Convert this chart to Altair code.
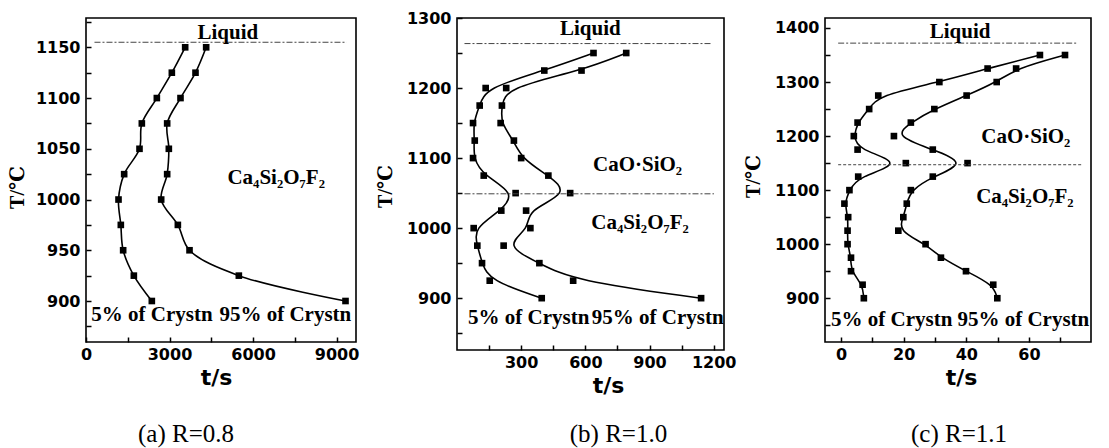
import altair as alt
import pandas as pd

# ---------------- data ----------------
T_a = [900, 925, 950, 975, 1000, 1025, 1050, 1075, 1100, 1125, 1150]
a_5 = [2365, 1719, 1335, 1251, 1168, 1371, 1922, 2006, 2545, 3084, 3563]
a_95 = [9323, 5491, 3719, 3300, 2701, 2916, 2976, 2916, 3395, 3934, 4317]

T_b = [900, 925, 950, 975, 1000, 1025, 1050, 1075, 1100, 1125, 1150, 1175, 1200, 1225, 1250]
b_5 = [396, 153, 117, 95, 78, 207, 274, 125, 75, 83, 75, 106, 134, 408, 638]
b_95 = [1141, 543, 385, 218, 343, 323, 529, 427, 300, 266, 204, 210, 230, 582, 791]

T_c = [900, 925, 950, 975, 1000, 1025, 1050, 1075, 1100, 1125, 1150, 1175, 1200,
       1225, 1250, 1275, 1300, 1325, 1350]
c_5 = [7.3, 6.9, 3.2, 3.2, 2.1, 2.1, 2.3, 1.1, 2.7, 5.5, 20.7, 5.3, 4.1,
       5.3, 9.0, 11.9, 31.4, 46.8, 63.5]
c_95 = [49.9, 48.6, 39.9, 31.9, 27.0, 18.3, 19.9, 21.0, 22.3, 29.3, 40.4, 29.3, 16.9,
        22.3, 29.8, 40.1, 49.7, 55.9, 71.5]

series_names = ["5% of Crystn", "95% of Crystn"]

# reference lines: (T, t_start, t_end, style)
ref_a = [(1155, 305, 9360, "dashdot")]
ref_b = [(1263.5, 35, 1194, "dashdot"), (1049, 35, 1201, "dashdot")]
ref_c = [(1372, -0.9, 75.7, "dashdot"), (1147, -0.9, 76.8, "dash")]

# annotations: (t, T, text)
lab_a = [(5095, 1164, "Liquid"), (6834, 1021, "Ca₄Si₂O₇F₂"),
         (2371, 886, "5% of Crystn"), (7162, 886, "95% of Crystn")]
lab_b = [(623, 1284, "Liquid"), (844, 1090, "CaO·SiO₂"), (856, 1008, "Ca₄Si₂O₇F₂"),
         (335, 872, "5% of Crystn"), (938, 872, "95% of Crystn")]
lab_c = [(38, 1392, "Liquid"), (59, 1199, "CaO·SiO₂"), (58.7, 1087, "Ca₄Si₂O₇F₂"),
         (16.2, 860, "5% of Crystn"), (58.2, 860, "95% of Crystn")]

captions = ["(a) R=0.8", "(b) R=1.0", "(c) R=1.1"]

SANS = "DejaVu Sans"
SERIF = "Liberation Serif, DejaVu Serif"


def curve_df(T, s5, s95):
    rows = []
    for name, vals in zip(series_names, [s5, s95]):
        for temp, tv in zip(T, vals):
            rows.append({"t": tv, "T": temp, "series": name})
    return pd.DataFrame(rows)


def panel(T, s5, s95, refs, labs, caption, xdom, ydom, xvals, xmajor, yvals, ymajor,
          width, height, interp, xt, yt, cap_dx, cap_off):
    df = curve_df(T, s5, s95)
    rdf = pd.DataFrame([{"T": r[0], "t": r[1], "t2": r[2], "style": r[3]} for r in refs])
    ldf = pd.DataFrame([{"t": l[0], "T": l[1], "text": l[2]} for l in labs])

    xaxis = alt.Axis(
        values=xvals, format="d",
        labelExpr=f"datum.value % {xmajor} == 0 ? datum.label : ''",
        offset=-5, tickSize=5, tickWidth=1.5, tickColor="black", domain=False, grid=False,
        labelFont=SANS, labelFontWeight="bold", labelFontSize=16, labelColor="black",
        labelPadding=4, labelFlush=False, labelOverlap=False, labelBaseline="top",
        title="t/s", titleFont=SANS, titleFontWeight="bold", titleFontSize=22,
        titleColor="black", titleX=xt[0], titleY=xt[1], titleBaseline="middle",
        titleAlign="center",
    )
    yaxis = alt.Axis(
        values=yvals, format="d",
        labelExpr=f"datum.value % {ymajor} == 0 ? datum.label : ''",
        offset=-5, tickSize=5, tickWidth=1.5, tickColor="black", domain=False, grid=False,
        labelFont=SANS, labelFontWeight="bold", labelFontSize=16, labelColor="black",
        labelPadding=6, labelOverlap=False,
        title="T/℃", titleFont=SERIF, titleFontWeight="bold", titleFontSize=20,
        titleColor="black", titleX=yt[0], titleY=yt[1], titleBaseline="middle",
        titleAlign="center", titleAngle=270,
    )
    xs = alt.Scale(domain=xdom, nice=False, zero=False)
    ys = alt.Scale(domain=ydom, nice=False, zero=False)

    def X(f="t"):
        return alt.X(f"{f}:Q", scale=xs, axis=xaxis)

    def Y():
        return alt.Y("T:Q", scale=ys, axis=yaxis)

    lines = alt.Chart(df).mark_line(interpolate=interp, color="black", strokeWidth=1.6).encode(
        x=X(), y=Y(), detail="series:N", order=alt.Order("T:Q"))
    pts = alt.Chart(df).mark_square(size=44, color="black", opacity=1, filled=True).encode(
        x=X(), y=Y(), detail="series:N")
    layers = [lines, pts]
    for style, dash in [("dashdot", [6, 2, 2, 2]), ("dash", [3, 2])]:
        sub = rdf[rdf["style"] == style]
        if len(sub):
            layers.append(alt.Chart(sub).mark_rule(color="#444", strokeWidth=1, strokeDash=dash).encode(
                x=X(), x2=alt.X2("t2:Q"), y=Y()))
    layers.append(alt.Chart(ldf).mark_text(font=SERIF, fontWeight="bold", fontSize=21,
                                           color="black", align="center", baseline="middle").encode(
        x=X(), y=Y(), text="text:N"))
    return alt.layer(*layers).properties(
        width=width, height=height,
        title=alt.TitleParams(caption, orient="bottom", font=SERIF, fontSize=25,
                              fontWeight="normal", color="black", anchor="middle",
                              frame="group", dx=cap_dx, offset=cap_off),
    )


pa = panel(T_a, a_5, a_95, ref_a, lab_a, captions[0],
           [0, 9700], [859.6, 1178.9],
           list(range(0, 9001, 1500)), 3000, list(range(875, 1176, 25)), 50,
           270, 324, "catmull-rom", (130, 40), (-74, 169), -35, 34)
pb = panel(T_b, b_5, b_95, ref_b, lab_b, captions[1],
           [0, 1248], [826, 1300],
           list(range(150, 1201, 150)), 300, list(range(850, 1301, 50)), 100,
           267, 332, "basis", (151, 40), (-77, 168), 28, 26)
pc = panel(T_c, c_5, c_95, ref_c, lab_c, captions[2],
           [-5.1, 79.8], [819, 1418.5],
           list(range(0, 81, 10)), 20, list(range(850, 1401, 50)), 100,
           266, 324, "basis", (136, 40), (-77, 158), 1, 34)

chart = alt.hconcat(pa, pb, pc, spacing=101, bounds="flush").properties(
    padding={"left": 6, "top": 9, "right": 0, "bottom": 0},
    background="white",
).configure_view(stroke="black", strokeWidth=1.6)

chart.save("out.html", embed_options={"renderer": "svg", "actions": False})
